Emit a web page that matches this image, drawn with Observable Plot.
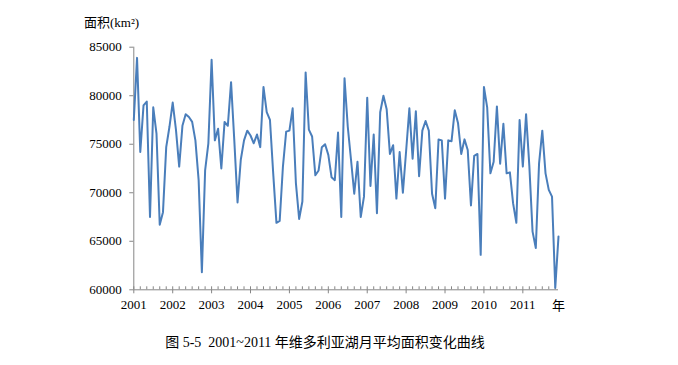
<!DOCTYPE html>
<html>
<head>
<meta charset="utf-8">
<script src="https://cdn.jsdelivr.net/npm/d3@7"></script>
<script src="https://cdn.jsdelivr.net/npm/@observablehq/plot@0.6"></script>
<style>
  html, body { margin: 0; padding: 0; background: #fff; }
  #wrap { position: relative; width: 678px; height: 365px; overflow: hidden; background: #fff;
          font-family: "Liberation Serif", "Noto Sans CJK SC", serif; color: #000; }
  #chart { position: absolute; left: 0; top: 0; }
  #ytitle { position: absolute; left: 84px; top: 12px; font-size: 13px; white-space: nowrap; }
  #unit { position: absolute; left: 552px; top: 295px; font-size: 13px; }
  #caption { position: absolute; left: 0; width: 650px; top: 331px; text-align: center; font-size: 14px; white-space: nowrap; }
</style>
</head>
<body>
<div id="wrap">
  <div id="chart"></div>
  <div id="ytitle">面积(km²)</div>
  <div id="unit">年</div>
  <div id="caption">图 5-5&nbsp; 2001~2011 年维多利亚湖月平均面积变化曲线</div>
</div>
<script>
// Tick labels
const years = [2001, 2002, 2003, 2004, 2005, 2006, 2007, 2008, 2009, 2010, 2011];
const yTicks = [60000, 65000, 70000, 75000, 80000, 85000];

// Monthly mean area (km²), Jan 2001 .. Dec 2011
const area = [
  77500, 83900, 74200, 79000, 79400, 67500, 78800, 76100, 66700, 68000, 74700, 76800, // 2001
  79300, 76500, 72700, 76900, 78100, 77800, 77300, 75400, 71300, 61800, 72300, 75100, // 2002
  83700, 75400, 76600, 72500, 77300, 76900, 81400, 75400, 69000, 73400, 75400, 76400, // 2003
  75900, 75100, 76000, 74700, 80900, 78300, 77500, 72000, 66900, 67100, 72700, 76300, // 2004
  76400, 78700, 71000, 67300, 69100, 82400, 76500, 75800, 71800, 72300, 74700, 75000, // 2005
  73900, 71600, 71300, 76200, 67500, 81800, 76800, 73400, 69900, 73200, 67500, 69600, // 2006
  79800, 70700, 76000, 67900, 78300, 80000, 78600, 74000, 74900, 69400, 74200, 70000, // 2007
  74300, 78700, 73500, 78400, 71700, 76400, 77400, 76400, 69900, 68400, 75500, 75400, // 2008
  69400, 75400, 75300, 78500, 77200, 74000, 75500, 74400, 68700, 73800, 74000, 63600, // 2009
  80900, 78800, 72000, 73200, 78900, 73000, 77100, 72000, 72100, 68900, 66900, 77500, // 2010
  72700, 78100, 72800, 66000, 64300, 73000, 76400, 72000, 70300, 69600, 60200, 65500  // 2011
];

const data = area.map((v, i) => ({i, v}));
const yearIdx = years.map((y, k) => k * 12);
const minorIdx = d3.range(0, area.length, 2);
const axisColor = "#868686";

const chart = Plot.plot({
  width: 678,
  height: 320,
  marginLeft: 133.3,
  marginRight: 120,
  marginTop: 46.7,
  marginBottom: 30.7,
  style: {fontFamily: '"Liberation Serif", "Noto Sans CJK SC", serif', background: "transparent", color: "#000", overflow: "visible"},
  x: {domain: [0, area.length - 1]},
  y: {domain: [60000, 85000]},
  marks: [
    Plot.axisY({ticks: yTicks, tickSize: 4, tickPadding: 8, tickFormat: d => String(d), fontSize: 13, stroke: axisColor, fill: "#000", label: null}),
    Plot.ruleX(minorIdx, {x: d => d, y1: 60000, y2: 60000, insetTop: -3, stroke: axisColor, strokeWidth: 1}),
    Plot.axisX({ticks: yearIdx, tickSize: 4, tickPadding: 6, tickFormat: i => String(years[i / 12]), fontSize: 13, stroke: axisColor, fill: "#000", label: null}),
    Plot.ruleX([0], {stroke: axisColor, strokeWidth: 1}),
    Plot.ruleY([60000], {stroke: axisColor, strokeWidth: 1}),
    Plot.line(data, {x: "i", y: "v", stroke: "#4A7EBB", strokeWidth: 2})
  ]
});
document.getElementById("chart").appendChild(chart);
</script>
</body>
</html>
